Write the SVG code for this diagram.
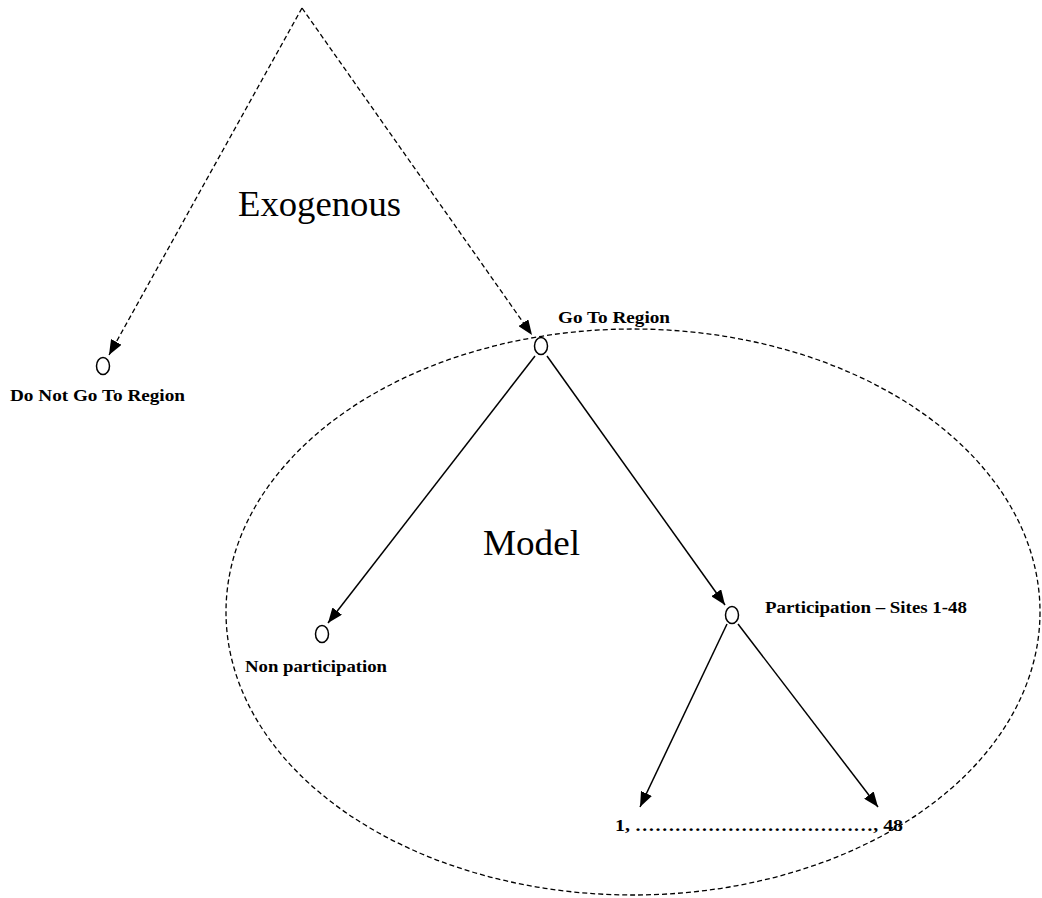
<svg xmlns="http://www.w3.org/2000/svg" width="1042" height="898" viewBox="0 0 1042 898">
<style>
.dash{fill:none;stroke:#000;stroke-width:1.3;stroke-dasharray:5 3}
.solid{fill:none;stroke:#000;stroke-width:1.5}
.node{fill:#fff;stroke:#000;stroke-width:1.5}
.lbl{font-family:"Liberation Serif","Times New Roman",serif;font-weight:bold;font-size:17px;fill:#000}
.big{font-family:"Liberation Serif","Times New Roman",serif;font-size:36px;fill:#000}
</style>
<defs>
<marker id="arr" markerUnits="userSpaceOnUse" markerWidth="16" markerHeight="12" refX="15" refY="6" orient="auto">
<path d="M0,0 L15,6 L0,12 Z" fill="#000"/>
</marker>
</defs>
<rect width="1042" height="898" fill="#fff"/>
<g id="model-region">
<ellipse class="dash" cx="633" cy="612" rx="407" ry="283"/>
</g>
<g id="connectors">
<line class="dash" x1="302" y1="8" x2="109" y2="355" marker-end="url(#arr)"/>
<line class="dash" x1="302" y1="8" x2="532" y2="335" marker-end="url(#arr)"/>
<line class="solid" x1="535" y1="356" x2="328" y2="623" marker-end="url(#arr)"/>
<line class="solid" x1="547" y1="356" x2="725" y2="605" marker-end="url(#arr)"/>
<line class="solid" x1="727" y1="624" x2="640" y2="807" marker-end="url(#arr)"/>
<line class="solid" x1="738" y1="624" x2="878" y2="807" marker-end="url(#arr)"/>
</g>
<g id="exogenous-label"><text class="big" x="238" y="216" textLength="163" lengthAdjust="spacingAndGlyphs">Exogenous</text></g>
<g id="model-label"><text class="big" x="483" y="555" textLength="97" lengthAdjust="spacingAndGlyphs">Model</text></g>
<g id="node-do-not-go">
<ellipse class="node" cx="103" cy="366" rx="6.5" ry="8.5"/>
<text class="lbl" x="10" y="401" textLength="175" lengthAdjust="spacingAndGlyphs">Do Not Go To Region</text>
</g>
<g id="node-go-to-region">
<ellipse class="node" cx="541" cy="346" rx="6.5" ry="8.5"/>
<text class="lbl" x="558" y="323" textLength="112" lengthAdjust="spacingAndGlyphs">Go To Region</text>
</g>
<g id="node-non-participation">
<ellipse class="node" cx="322" cy="634" rx="6.5" ry="8.5"/>
<text class="lbl" x="245" y="672" textLength="142" lengthAdjust="spacingAndGlyphs">Non participation</text>
</g>
<g id="node-participation">
<ellipse class="node" cx="732" cy="615" rx="6.5" ry="8.5"/>
<text class="lbl" x="765" y="613" textLength="202" lengthAdjust="spacingAndGlyphs">Participation – Sites 1-48</text>
</g>
<g id="node-sites">
<text class="lbl" x="615" y="831" textLength="288" lengthAdjust="spacingAndGlyphs">1, ………………………………, 48</text>
</g>
</svg>
